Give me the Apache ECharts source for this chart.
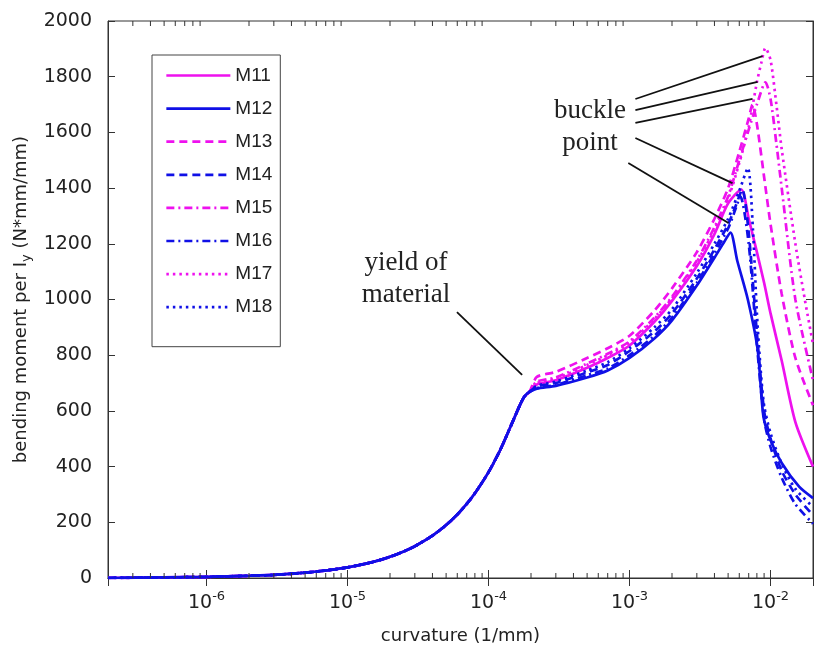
<!DOCTYPE html>
<html>
<head>
<meta charset="utf-8">
<script src="https://cdn.jsdelivr.net/npm/echarts@6/dist/echarts.min.js"></script>
<style>
  body { margin: 0; background: #fff; }
  #main { width: 815px; height: 650px; }
</style>
</head>
<body>
<div id="main"></div>
<script>
// common rising part (all specimens overlap up to yield)
const riseX = [2e-7, 5e-7, 1e-6, 2e-6, 3e-6, 5e-6, 7e-6, 1e-5, 1.5e-5, 2e-5, 2.5e-5, 3e-5, 4e-5, 5e-5, 6e-5, 7e-5, 8e-5, 1e-4, 1.2e-4, 1.4e-4, 1.6e-4, 1.7e-4, 1.8e-4, 1.95e-4]
const riseY = [0, 2, 4, 8, 11, 19, 27, 38, 57, 76, 95, 114, 152, 190, 228, 266, 304, 380, 456, 532, 600, 630, 652, 668]

// after yield, per specimen
const m11X = [2.2e-4, 3e-4, 5e-4, 7e-4, 1e-3, 1.5e-3, 2e-3, 3e-3, 4e-3, 5e-3, 6.2e-3, 7e-3, 8e-3, 9e-3, 1e-2, 1.2e-2, 1.5e-2, 2e-2]
const m11Y = [695, 710, 755, 790, 835, 920, 995, 1120, 1235, 1345, 1395, 1290, 1170, 1060, 950, 780, 560, 400]
const m12X = [2.2e-4, 3e-4, 5e-4, 7e-4, 1e-3, 1.5e-3, 2e-3, 3e-3, 4e-3, 4.6e-3, 5.2e-3, 5.8e-3, 6.9e-3, 8.1e-3, 8.9e-3, 1e-2, 1.2e-2, 1.6e-2, 2e-2]
const m12Y = [680, 690, 720, 745, 790, 860, 925, 1050, 1150, 1200, 1240, 1140, 1000, 820, 580, 495, 413, 327, 287]
const m13X = [2.2e-4, 3e-4, 5e-4, 7e-4, 1e-3, 1.5e-3, 2e-3, 3e-3, 4e-3, 5e-3, 6e-3, 7e-3, 7.45e-3, 8e-3, 9e-3, 1e-2, 1.2e-2, 1.5e-2, 2e-2]
const m13Y = [722, 740, 790, 825, 870, 960, 1040, 1170, 1290, 1400, 1530, 1650, 1700, 1630, 1440, 1270, 1020, 790, 620]
const m14X = [2.2e-4, 3e-4, 5e-4, 7e-4, 1e-3, 1.5e-3, 2e-3, 3e-3, 4e-3, 5e-3, 5.7e-3, 6.3e-3, 7e-3, 8e-3, 9e-3, 1e-2, 1.2e-2, 1.5e-2, 2e-2]
const m14Y = [688, 700, 738, 765, 815, 885, 950, 1075, 1180, 1270, 1340, 1395, 1240, 880, 600, 500, 385, 300, 225]
const m15X = [2.2e-4, 3e-4, 5e-4, 7e-4, 1e-3, 1.5e-3, 2e-3, 3e-3, 4e-3, 5e-3, 6e-3, 7e-3, 8e-3, 9.2e-3, 1e-2, 1.1e-2, 1.2e-2, 1.5e-2, 2e-2]
const m15Y = [705, 720, 770, 805, 850, 935, 1010, 1140, 1260, 1370, 1500, 1610, 1700, 1780, 1720, 1560, 1400, 1000, 710]
const m16X = [2.2e-4, 3e-4, 5e-4, 7e-4, 1e-3, 1.5e-3, 2e-3, 3e-3, 4e-3, 5e-3, 5.6e-3, 6.1e-3, 7e-3, 8e-3, 9e-3, 1e-2, 1.2e-2, 1.5e-2, 2e-2]
const m16Y = [682, 693, 728, 752, 800, 870, 935, 1060, 1165, 1255, 1320, 1370, 1200, 840, 570, 470, 360, 265, 195]
const m17X = [2.2e-4, 3e-4, 5e-4, 7e-4, 1e-3, 1.5e-3, 2e-3, 3e-3, 4e-3, 5e-3, 6e-3, 7e-3, 8e-3, 8.6e-3, 9.2e-3, 1e-2, 1.1e-2, 1.2e-2, 1.5e-2, 1.75e-2, 2e-2]
const m17Y = [700, 715, 765, 800, 845, 930, 1005, 1135, 1250, 1360, 1490, 1620, 1780, 1850, 1903, 1860, 1700, 1540, 1200, 1000, 840]
const m18X = [2.2e-4, 3e-4, 5e-4, 7e-4, 1e-3, 1.5e-3, 2e-3, 3e-3, 4e-3, 5e-3, 6e-3, 6.9e-3, 7.5e-3, 8e-3, 8.5e-3, 9e-3, 1e-2, 1.2e-2, 1.5e-2, 2e-2]
const m18Y = [690, 705, 745, 775, 825, 900, 965, 1095, 1200, 1290, 1390, 1472, 1250, 950, 750, 620, 520, 410, 320, 255]

// leader lines of the annotations, [x1, y1, x2, y2] in data units
const buckleLines = [
  [1.1e-3, 1720, 8.77e-3, 1874],
  [1.1e-3, 1680, 8.09e-3, 1781],
  [1.1e-3, 1634, 7.45e-3, 1720],
  [1.1e-3, 1580, 5.37e-3, 1418],
  [9.8e-4, 1490, 5.03e-3, 1275]
]
const yieldLine = [5.97e-5, 955, 1.73e-4, 729]

const MAG = '#ee11ee'
const BLU = '#1010e6'
const dashed = [8, 5]
const dashDot = [8, 4, 2, 4]
const dotted = [2.5, 4]

function pts (xs, ys) {
  const out = []
  for (let i = 0; i < xs.length; i++) out.push([xs[i], ys[i]])
  return out
}

const specimens = [
  { name: 'M11', color: MAG, type: 'solid', x: m11X, y: m11Y },
  { name: 'M13', color: MAG, type: dashed, x: m13X, y: m13Y },
  { name: 'M15', color: MAG, type: dashDot, x: m15X, y: m15Y },
  { name: 'M17', color: MAG, type: dotted, x: m17X, y: m17Y },
  { name: 'M12', color: BLU, type: 'solid', x: m12X, y: m12Y },
  { name: 'M14', color: BLU, type: dashed, x: m14X, y: m14Y },
  { name: 'M16', color: BLU, type: dashDot, x: m16X, y: m16Y },
  { name: 'M18', color: BLU, type: dotted, x: m18X, y: m18Y }
]

// minor ticks of the log axis (2..9 x 10^k)
const minorTicks = []
for (let k = -7; k <= -2; k++) {
  for (let m = 2; m <= 9; m++) {
    const v = m * Math.pow(10, k)
    if (v > 2.01e-7 && v < 1.99e-2) minorTicks.push([v, 0])
  }
}

const labelFont = 'DejaVu Sans'
const axisColor = '#333'

const series = specimens.map(function (s) {
  return {
    name: s.name,
    type: 'line',
    data: pts(riseX.concat(s.x), riseY.concat(s.y)),
    showSymbol: false,
    symbol: 'none',
    smooth: 0.25,
    lineStyle: { color: s.color, width: 2.7, type: s.type },
    itemStyle: { color: s.color },
    z: 3
  }
})

series.push({
  name: 'minor',
  type: 'custom',
  data: minorTicks,
  silent: true,
  z: 5,
  renderItem: function (params, api) {
    const v = api.value(0)
    const b = api.coord([v, 0])
    const t = api.coord([v, 2000])
    return {
      type: 'group',
      children: [
        { type: 'line', shape: { x1: b[0], y1: b[1], x2: b[0], y2: b[1] - 5 }, style: { stroke: axisColor, lineWidth: 1 } },
        { type: 'line', shape: { x1: t[0], y1: t[1], x2: t[0], y2: t[1] + 5 }, style: { stroke: axisColor, lineWidth: 1 } }
      ]
    }
  }
})

series.push({
  name: 'notes',
  type: 'line',
  data: [],
  silent: true,
  z: 6,
  markLine: {
    silent: true,
    symbol: ['none', 'none'],
    label: { show: false },
    lineStyle: { color: '#111', width: 1.8, type: 'solid' },
    data: buckleLines.concat([yieldLine]).map(function (l) {
      return [{ coord: [l[0], l[1]] }, { coord: [l[2], l[3]] }]
    })
  }
})

const logAxis = {
  type: 'log',
  logBase: 10,
  min: 2e-7,
  max: 2e-2
}

const option = {
  animation: false,
  backgroundColor: '#fff',
  grid: {
    left: 108, right: 2, top: 21, bottom: 72,
    show: true, borderColor: axisColor, borderWidth: 1, backgroundColor: '#fff'
  },
  legend: {
    data: ['M11', 'M12', 'M13', 'M14', 'M15', 'M16', 'M17', 'M18'],
    orient: 'vertical',
    left: 152,
    top: 55,
    itemWidth: 64,
    itemHeight: 14,
    itemGap: 14.1,
    padding: [11, 8, 30, 13],
    borderColor: '#444',
    borderWidth: 1,
    backgroundColor: '#fff',
    itemStyle: { opacity: 0 },
    lineStyle: { width: 2.7 },
    textStyle: { fontFamily: 'Liberation Sans', fontSize: 19, color: '#222' }
  },
  xAxis: [
    Object.assign({}, logAxis, {
      position: 'bottom',
      name: 'curvature (1/mm)',
      nameLocation: 'middle',
      nameGap: 49,
      nameTextStyle: { fontFamily: labelFont, fontSize: 18, color: '#222' },
      axisLine: { lineStyle: { color: axisColor } },
      axisTick: { inside: true, length: 8, lineStyle: { color: axisColor } },
      splitLine: { show: false },
      axisLabel: {
        margin: 12,
        color: '#222',
        showMinLabel: false,
        showMaxLabel: false,
        formatter: function (v) {
          const e = Math.log10(v)
          const r = Math.round(e)
          if (Math.abs(e - r) > 1e-6) return ''
          return '{b|10}{s|' + r + '}'
        },
        rich: {
          b: { fontFamily: labelFont, fontSize: 19, lineHeight: 19, padding: [7, 0, 0, 0], color: '#222' },
          s: { fontFamily: labelFont, fontSize: 13, lineHeight: 13, verticalAlign: 'top', color: '#222' }
        }
      }
    }),
    Object.assign({}, logAxis, {
      position: 'top',
      axisLine: { lineStyle: { color: axisColor } },
      axisTick: { inside: true, length: 8, lineStyle: { color: axisColor } },
      axisLabel: { show: false },
      splitLine: { show: false }
    })
  ],
  yAxis: [
    {
      type: 'value',
      min: 0,
      max: 2000,
      interval: 200,
      position: 'left',
      name: '{t|bending moment per I}{u|y}{t| (N*mm/mm)}',
      nameLocation: 'middle',
      nameGap: 67,
      nameTextStyle: {
        rich: {
          t: { fontFamily: labelFont, fontSize: 18, color: '#222' },
          u: { fontFamily: labelFont, fontSize: 13, color: '#222', padding: [9, 0, 0, 0] }
        }
      },
      axisLine: { show: true, lineStyle: { color: axisColor } },
      axisTick: { show: true, inside: true, length: 7, lineStyle: { color: axisColor } },
      splitLine: { show: false },
      axisLabel: {
        fontFamily: labelFont,
        fontSize: 19,
        color: '#222',
        margin: 16,
        formatter: function (v) { return String(v) }
      }
    },
    {
      type: 'value',
      min: 0,
      max: 2000,
      interval: 200,
      position: 'right',
      axisLine: { show: true, lineStyle: { color: axisColor } },
      axisTick: { show: true, inside: true, length: 7, lineStyle: { color: axisColor } },
      splitLine: { show: false },
      axisLabel: { show: false }
    }
  ],
  graphic: [
    {
      type: 'text',
      x: 590,
      y: 127,
      z: 100,
      style: {
        text: 'buckle\npoint',
        font: '27px "Liberation Serif"',
        fill: '#222',
        align: 'center',
        verticalAlign: 'middle',
        lineHeight: 32
      }
    },
    {
      type: 'text',
      x: 406,
      y: 279,
      z: 100,
      style: {
        text: 'yield of\nmaterial',
        font: '27px "Liberation Serif"',
        fill: '#222',
        align: 'center',
        verticalAlign: 'middle',
        lineHeight: 32
      }
    }
  ],
  series: series
}

const myChart = echarts.init(document.getElementById('main'))
myChart.setOption(option)
</script>
</body>
</html>
